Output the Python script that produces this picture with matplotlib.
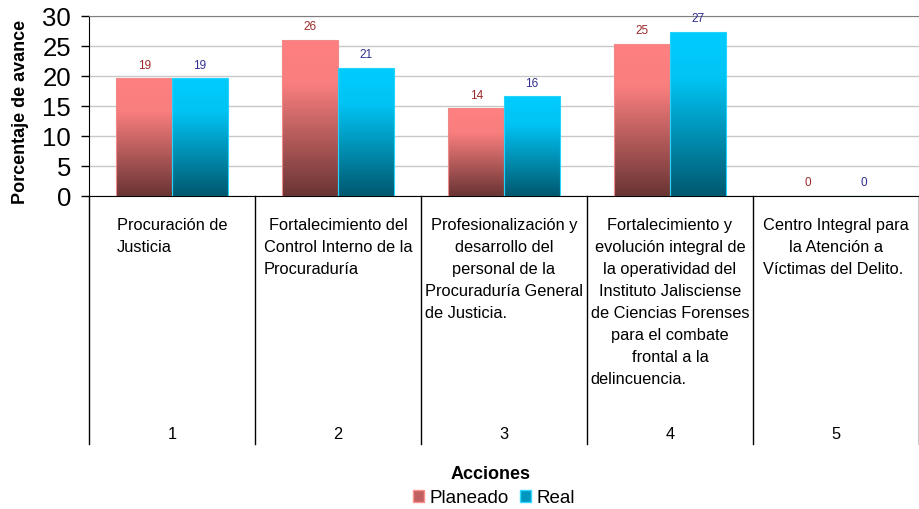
import numpy as np
import matplotlib
matplotlib.use("Agg")
import matplotlib.pyplot as plt
from matplotlib.colors import LinearSegmentedColormap
from matplotlib.patches import Patch

# data
acciones = [1, 2, 3, 4, 5]
planeado = [19.6, 26.0, 14.6, 25.3, 0.0]
real = [19.6, 21.3, 16.6, 27.3, 0.0]
planeado_lbl = ["19", "26", "14", "25", "0"]
real_lbl = ["19", "21", "16", "27", "0"]
descripciones = [
    ["Procuración de", "Justicia"],
    ["Fortalecimiento del", "Control Interno de la", "Procuraduría"],
    ["Profesionalización y", "desarrollo del", "personal de la",
     "Procuraduría General", "de Justicia."],
    ["Fortalecimiento y", "evolución integral de", "la operatividad del",
     "Instituto Jalisciense", "de Ciencias Forenses", "para el combate",
     "frontal a la", "delincuencia."],
    ["Centro Integral para", "la Atención a", "Víctimas del Delito."],
]

W, H = 919, 510
fig = plt.figure(figsize=(W / 100, H / 100), dpi=100)

# main axes (pixel box: x 89-919, y 17-197)
ax = fig.add_axes([89 / W, 1 - 197 / H, 830 / W, 180 / H])
# table area under the chart (y 197-445)
ax2 = fig.add_axes([89 / W, 1 - 445 / H, 830 / W, 248 / H])

cm_plan = LinearSegmentedColormap.from_list(
    "plan", [(0, "#6a3434"), (0.72, "#f97e7e"), (1, "#ff8080")])
cm_real = LinearSegmentedColormap.from_list(
    "real", [(0, "#00586f"), (0.72, "#00c4f4"), (1, "#00ccff")])

x = np.array(acciones, dtype=float)
bw = 0.335
bars_p = ax.bar(x - bw / 2, planeado, bw, facecolor="none",
                edgecolor="#f08a8a", lw=0.8, zorder=3)
bars_r = ax.bar(x + bw / 2, real, bw, facecolor="none",
                edgecolor="#22d4ff", lw=0.8, zorder=3)

grad = np.linspace(0, 1, 256).reshape(-1, 1)
for bars, cmap in ((bars_p, cm_plan), (bars_r, cm_real)):
    for b in bars:
        h = b.get_height()
        if h <= 0:
            continue
        x0 = b.get_x()
        ax.imshow(grad, cmap=cmap, origin="lower", aspect="auto",
                  extent=[x0, x0 + b.get_width(), 0, h], zorder=2)

# value labels
for b, t in zip(bars_p, planeado_lbl):
    ax.annotate(t, (b.get_x() + b.get_width() / 2, b.get_height()),
                xytext=(0, 10), textcoords="offset points", ha="center",
                va="center", fontsize=8.5, color="#9c2a2a",
                family="Liberation Sans")
for b, t in zip(bars_r, real_lbl):
    ax.annotate(t, (b.get_x() + b.get_width() / 2, b.get_height()),
                xytext=(0, 10), textcoords="offset points", ha="center",
                va="center", fontsize=8.5, color="#2e2e8f",
                family="Liberation Sans")

ax.set_xlim(0.5, 5.5)
ax.set_ylim(0, 30)
ax.set_yticks(range(0, 31, 5))
ax.set_xticks([])
ax.tick_params(axis="y", length=6, width=1, pad=7, labelsize=18.5)
for lab in ax.get_yticklabels():
    lab.set_family("Liberation Sans")
ax.yaxis.grid(True, color="#c8c8c8", lw=1)
ax.set_axisbelow(True)
ax.spines["right"].set_visible(False)
ax.spines["top"].set_color("#7f7f7f")
ax.spines["left"].set_color("black")
ax.spines["bottom"].set_color("black")
ax.set_ylabel("Porcentaje de avance", fontsize=13, fontweight="bold",
              family="Liberation Sans")
ax.yaxis.set_label_coords(-60 / 830, 0.5 - 5 / 180)

# table under the axis
ax2.set_xlim(0.5, 5.5)
ax2.set_ylim(248, 0)
ax2.axis("off")
for xb in np.arange(0.5, 6.0, 1.0):
    ax2.plot([xb, xb], [0, 248], color="black", lw=1, clip_on=False)

fig.canvas.draw()
r = fig.canvas.get_renderer()
y0, dy = 29, 21.9
for i, lines in enumerate(descripciones):
    texts = []
    for j, line in enumerate(lines):
        texts.append(ax2.text(acciones[i], y0 + j * dy, line, ha="center",
                              va="center", fontsize=11.8,
                              family="Liberation Sans"))
    if len(lines) > 1:
        left = min(t.get_window_extent(r).x0 for t in texts[:-1])
        xd = ax2.transData.inverted().transform((left, 0))[0]
        texts[-1].set_ha("left")
        texts[-1].set_x(xd)
    ax2.text(acciones[i], 238, str(acciones[i]), ha="center", va="center",
             fontsize=11.8, family="Liberation Sans")

fig.text(491 / W, 1 - 475 / H, "Acciones", ha="center", va="center",
         fontsize=13, fontweight="bold", family="Liberation Sans")
handles = [Patch(facecolor="#c06060", edgecolor="#ff9090", label="Planeado"),
           Patch(facecolor="#0096bf", edgecolor="#30d8ff", label="Real")]
fig.legend(handles=handles, loc="center", bbox_to_anchor=(494 / W, 1 - 499 / H),
           ncol=2, frameon=False, handlelength=0.6, handleheight=0.6,
           handletextpad=0.3, columnspacing=0.6,
           prop={"family": "Liberation Sans", "size": 13.5})

fig.savefig("out.png", dpi=100)
